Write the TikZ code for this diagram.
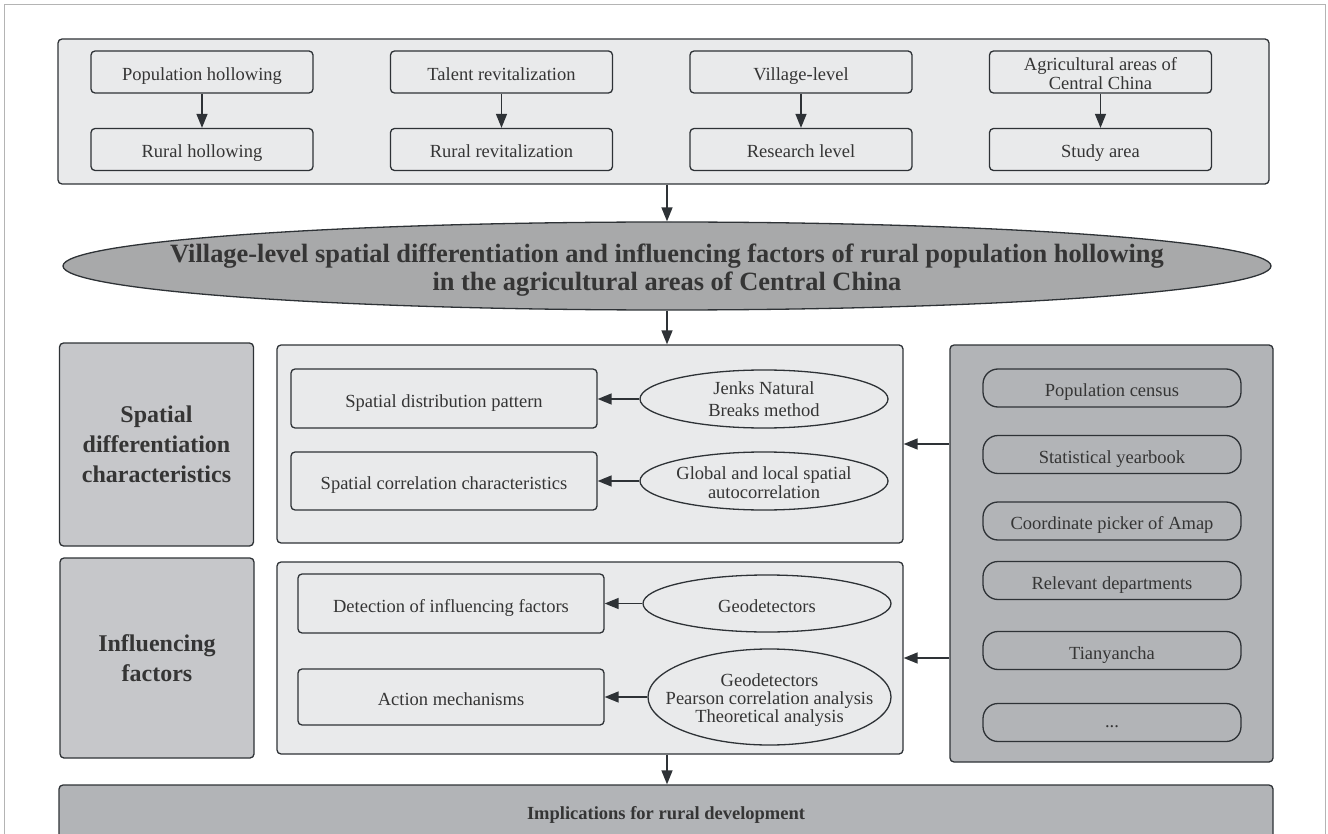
\documentclass[tikz,border=0pt]{standalone}
\usepackage{fontspec}
\setmainfont{Liberation Serif}
\usetikzlibrary{arrows.meta,shapes.geometric}
\definecolor{strokec}{HTML}{2E3236}
\definecolor{textc}{HTML}{353535}
\definecolor{lightc}{HTML}{E9EAEB}
\definecolor{leftc}{HTML}{C6C7CA}
\definecolor{ellc}{HTML}{A8A9AA}
\definecolor{panelc}{HTML}{B2B4B7}
\definecolor{framec}{HTML}{B4B4B4}
\begin{document}
\begin{tikzpicture}[x=1pt,y=-1pt,
  every node/.style={text=textc, inner sep=0pt, align=center,
    font=\fontsize{18.5}{19}\selectfont},
  oneline/.style={text height=17pt, text depth=0pt},
  shapebase/.style={draw=strokec, line width=1.3pt},
  panel/.style={shapebase, rounded corners=4pt, fill=lightc},
  topbox/.style={shapebase, rounded corners=4pt, fill=lightc,
    minimum width=222pt, minimum height=42pt},
  leftbox/.style={shapebase, rounded corners=4pt, fill=leftc,
    minimum width=194pt, font=\bfseries\fontsize{24}{30}\selectfont},
  innerbox/.style={shapebase, rounded corners=4pt, fill=lightc,
    minimum width=306pt, oneline},
  oval/.style={shapebase, ellipse, fill=lightc},
  pill/.style={shapebase, rounded corners=15pt, fill=panelc,
    minimum width=258pt, minimum height=38pt},
  arr/.style={draw=strokec, line width=1.4pt,
    -{Triangle[length=14pt,width=11pt]}}]
\useasboundingbox (0,0) rectangle (1328,834);
\clip (0,0) rectangle (1328,834);
% outer frame
\draw[framec, line width=1pt] (4.5,840) -- (4.5,4.5) -- (1325.5,4.5) -- (1325.5,840);

% top container
\node[panel, minimum width=1211pt, minimum height=145pt] (top) at (663.5,111.5) {};
\node[topbox, oneline] (a1) at (202,72) {Population hollowing};
\node[topbox, oneline] (a2) at (501.5,72) {Talent revitalization};
\node[topbox, oneline] (a3) at (801,72) {Village-level};
\node[topbox] (a4) at (1100.5,72) {};
\node (a4t) at (1100.5,74) {Agricultural areas of\\Central China};
\node[topbox, oneline] (b1) at (202,149.5) {Rural hollowing};
\node[topbox, oneline] (b2) at (501.5,149.5) {Rural revitalization};
\node[topbox, oneline] (b3) at (801,149.5) {Research level};
\node[topbox, oneline] (b4) at (1100.5,149.5) {Study area};
\foreach \i in {1,2,3,4} \draw[arr] (a\i.south) -- (b\i.north);

% title ellipse
\node[shapebase, ellipse, fill=ellc, minimum width=1208pt, minimum height=88pt] (title) at (667,266) {};
\node[font=\bfseries\fontsize{26.4}{28}\selectfont] (titletext) at (667,270.5)
  {Village-level spatial differentiation and influencing factors of rural population hollowing\\in the agricultural areas of Central China};
\draw[arr] (top.south -| title.north) -- (title.north);

% left labels
\node[leftbox, minimum height=203pt] (l1) at (156.5,444.5) {Spatial\\differentiation\\characteristics};
\node[leftbox, minimum height=200pt] (l2) at (157,658) {Influencing\\factors};

% middle containers
\node[panel, minimum width=626pt, minimum height=198pt] (m1) at (590,444) {};
\node[panel, minimum width=626pt, minimum height=192pt] (m2) at (590,658) {};
\draw[arr] (title.south) -- (title.south |- m1.north);

\node[innerbox, minimum height=59pt] (r1) at (444,398.5) {Spatial distribution pattern};
\node[innerbox, minimum height=58pt] (r2) at (444,481) {Spatial correlation characteristics};
\node[innerbox, minimum height=59pt] (r3) at (451,603.5) {Detection of influencing factors};
\node[innerbox, minimum height=56pt] (r4) at (451,697) {Action mechanisms};

\node[oval, minimum width=248pt, minimum height=58pt] (e1) at (764,399) {};
\node[font=\fontsize{18.5}{22}\selectfont] (e1t) at (764,399) {Jenks Natural\\Breaks method};
\node[oval, minimum width=248pt, minimum height=58pt] (e2) at (764,481) {};
\node[font=\fontsize{18.5}{19}\selectfont] (e2t) at (764,482.5) {Global and local spatial\\autocorrelation};
\node[oval, minimum width=248pt, minimum height=57pt] (e3) at (767,603.5) {};
\node[oneline] (e3t) at (767,603.5) {Geodetectors};
\node[oval, minimum width=243pt, minimum height=96pt] (e4) at (769.5,697) {};
\node[font=\fontsize{18.5}{18}\selectfont] (e4t) at (769.5,700.5) {Geodetectors\\Pearson correlation analysis\\Theoretical analysis};

\draw[arr] (e1.west) -- (r1.east |- e1.west);
\draw[arr] (e2.west) -- (r2.east |- e2.west);
\draw[arr] (e3.west) -- (r3.east |- e3.west);
\draw[arr] (e4.west) -- (r4.east |- e4.west);

% right panel
\node[shapebase, rounded corners=4pt, fill=panelc, minimum width=323pt, minimum height=417pt] (src) at (1111.5,553.5) {};
\node[pill, oneline] (s1) at (1112,388) {Population census};
\node[pill, oneline] (s2) at (1112,454.5) {Statistical yearbook};
\node[pill, oneline] (s3) at (1112,521) {Coordinate picker of Amap};
\node[pill, oneline] (s4) at (1112,580.5) {Relevant departments};
\node[pill, oneline] (s5) at (1112,650.5) {Tianyancha};
\node[pill, text height=9pt, text depth=0pt] (s6) at (1112,722.5) {...};

\draw[arr] (src.west |- m1.east) -- (m1.east);
\draw[arr] (src.west |- m2.east) -- (m2.east);

% bottom
\node[shapebase, rounded corners=4pt, fill=panelc, minimum width=1214pt, minimum height=54pt,
  text height=14pt, text depth=0pt,
  font=\bfseries\fontsize{18.5}{19}\selectfont] (bottom) at (666,812) {Implications for rural development};
\draw[arr] (title.south |- m2.south) -- (title.south |- bottom.north);
\end{tikzpicture}
\end{document}
